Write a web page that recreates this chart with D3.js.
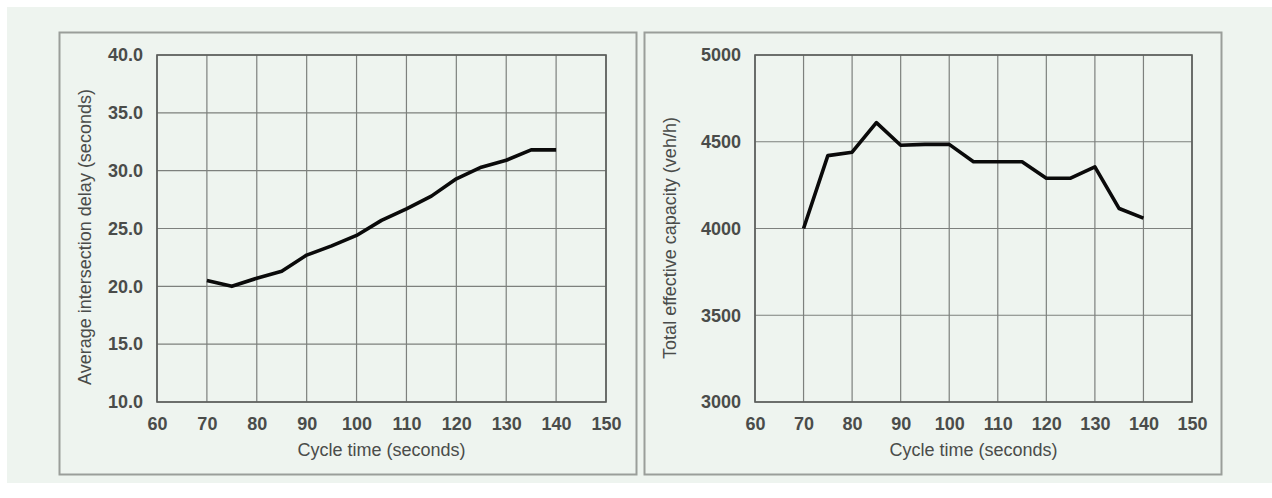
<!DOCTYPE html>
<html>
<head>
<meta charset="utf-8">
<script src="https://cdn.jsdelivr.net/npm/d3@7"></script>
<style>
  html, body { margin: 0; padding: 0; background: #ffffff; }
  svg { display: block; }
  text { font-family: "Liberation Sans", Arial, sans-serif; }
</style>
</head>
<body>
<svg id="chart" width="1272" height="498"></svg>
<script>
// Cycle time values shared by both panels (seconds)
const cycleTimes = [70, 75, 80, 85, 90, 95, 100, 105, 110, 115, 120, 125, 130, 135, 140];

// Average intersection delay (seconds)
const delayValues = [20.5, 20.0, 20.7, 21.3, 22.7, 23.5, 24.4, 25.7, 26.7, 27.8, 29.3, 30.3, 30.9, 31.8, 31.8];

// Total effective capacity (veh/h)
const capacityValues = [4000, 4420, 4440, 4610, 4480, 4485, 4485, 4385, 4385, 4385, 4290, 4290, 4355, 4115, 4060];

// Axis ticks
const xTicks = [60, 70, 80, 90, 100, 110, 120, 130, 140, 150];
const delayTicks = [10, 15, 20, 25, 30, 35, 40];
const capacityTicks = [3000, 3500, 4000, 4500, 5000];

const xTitle = "Cycle time (seconds)";
const delayTitle = "Average intersection delay (seconds)";
const capacityTitle = "Total effective capacity (veh/h)";

const svg = d3.select("#chart");

// page background
svg.append("rect")
  .attr("x", 7).attr("y", 7)
  .attr("width", 1265).attr("height", 476)
  .attr("fill", "#eef4ef");

const panels = [
  {
    frame: { x: 59, y: 32, w: 577, h: 442 },
    plot: { left: 157, right: 606, top: 55, bottom: 402 },
    yDomain: [10, 40], yTicks: delayTicks, yFormat: d3.format(".1f"),
    values: delayValues, yTitle: delayTitle, yTitleX: 91, yTitleY: 237
  },
  {
    frame: { x: 644, y: 32, w: 577, h: 442 },
    plot: { left: 755, right: 1192, top: 55, bottom: 402 },
    yDomain: [3000, 5000], yTicks: capacityTicks, yFormat: d3.format("d"),
    values: capacityValues, yTitle: capacityTitle, yTitleX: 676, yTitleY: 238
  }
];

panels.forEach(p => {
  const g = svg.append("g");

  // panel frame
  g.append("rect")
    .attr("x", p.frame.x + 0.5).attr("y", p.frame.y + 0.5)
    .attr("width", p.frame.w).attr("height", p.frame.h)
    .attr("fill", "none")
    .attr("stroke", "#9a9e9a")
    .attr("stroke-width", 2);

  const x = d3.scaleLinear().domain([60, 150]).range([p.plot.left, p.plot.right]);
  const y = d3.scaleLinear().domain(p.yDomain).range([p.plot.bottom, p.plot.top]);

  // vertical grid lines
  g.append("g")
    .selectAll("line")
    .data(xTicks)
    .join("line")
    .attr("x1", d => x(d)).attr("x2", d => x(d))
    .attr("y1", p.plot.top).attr("y2", p.plot.bottom)
    .attr("stroke", "#7d807d")
    .attr("stroke-width", 1.2);

  // horizontal grid lines
  g.append("g")
    .selectAll("line")
    .data(p.yTicks)
    .join("line")
    .attr("x1", p.plot.left).attr("x2", p.plot.right)
    .attr("y1", d => y(d)).attr("y2", d => y(d))
    .attr("stroke", "#7d807d")
    .attr("stroke-width", 1.2);

  // plot area border
  g.append("rect")
    .attr("x", p.plot.left).attr("y", p.plot.top)
    .attr("width", p.plot.right - p.plot.left)
    .attr("height", p.plot.bottom - p.plot.top)
    .attr("fill", "none")
    .attr("stroke", "#5a5d5a")
    .attr("stroke-width", 1.6);

  // x axis labels
  const xAxis = d3.axisBottom(x).tickValues(xTicks).tickSize(0).tickPadding(15);
  const xa = g.append("g")
    .attr("transform", `translate(0,${p.plot.bottom})`)
    .call(xAxis);
  xa.select(".domain").remove();
  xa.selectAll("text")
    .attr("font-family", "Liberation Sans, Arial, sans-serif")
    .attr("font-size", 18)
    .attr("font-weight", "bold")
    .attr("fill", "#4a4c4a");

  // y axis labels
  const yAxis = d3.axisLeft(y).tickValues(p.yTicks).tickFormat(p.yFormat).tickSize(0).tickPadding(14);
  const ya = g.append("g")
    .attr("transform", `translate(${p.plot.left},0)`)
    .call(yAxis);
  ya.select(".domain").remove();
  ya.selectAll("text")
    .attr("font-family", "Liberation Sans, Arial, sans-serif")
    .attr("font-size", 18)
    .attr("font-weight", "bold")
    .attr("fill", "#4a4c4a");

  // axis titles
  g.append("text")
    .attr("x", (p.plot.left + p.plot.right) / 2)
    .attr("y", 456)
    .attr("text-anchor", "middle")
    .attr("font-size", 18)
    .attr("fill", "#4a4c4a")
    .text(xTitle);

  g.append("text")
    .attr("transform", `translate(${p.yTitleX},${p.yTitleY}) rotate(-90)`)
    .attr("text-anchor", "middle")
    .attr("font-size", 18)
    .attr("fill", "#4a4c4a")
    .text(p.yTitle);

  // data line
  const line = d3.line()
    .x((d, i) => x(cycleTimes[i]))
    .y(d => y(d));

  g.append("path")
    .datum(p.values)
    .attr("d", line)
    .attr("fill", "none")
    .attr("stroke", "#0a0a0a")
    .attr("stroke-width", 3.6)
    .attr("stroke-linejoin", "round");
});
</script>
</body>
</html>
